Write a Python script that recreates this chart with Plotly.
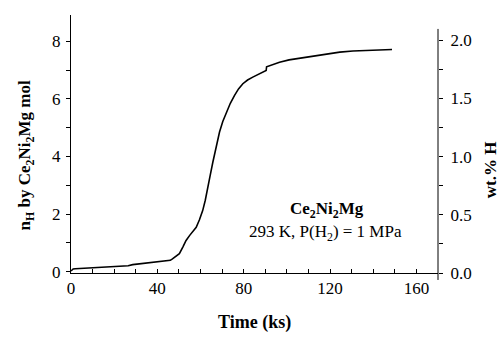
import plotly.graph_objects as go

# Time (ks) and hydrogen content n_H (per Ce2Ni2Mg formula unit)
time_ks = [0, 1, 2, 5, 8.5, 12, 16, 20, 24, 26.5, 28.6, 30, 33, 36.3, 40, 44, 46, 47, 48.7,
           50.2, 51.8, 53.3, 54.9, 56.5, 58, 59.5, 61, 62.2, 63.4, 64.5, 65.7, 67.2, 68.8,
           70.3, 71.9, 73.8, 75.7, 77.6, 79.6, 81.8, 84.2, 87.3, 90.4, 90.6, 93.5, 96.6,
           101, 105.9, 112, 118.3, 124.5, 130.6, 135, 139.9, 144.5, 148.7]
n_H = [0.02, 0.09, 0.1, 0.11, 0.13, 0.14, 0.15, 0.16, 0.17, 0.2, 0.24, 0.25, 0.28, 0.31, 0.33,
       0.35, 0.39, 0.44, 0.52, 0.62, 0.85, 1.08, 1.25, 1.4, 1.54, 1.8, 2.12, 2.48, 2.88, 3.35,
       3.8, 4.35, 4.85, 5.22, 5.54, 5.85, 6.12, 6.35, 6.53, 6.66, 6.76, 6.88, 6.99, 7.12, 7.2,
       7.28, 7.36, 7.42, 7.5, 7.57, 7.63, 7.67, 7.68, 7.69, 7.71, 7.72]

x_ticks = [0, 40, 80, 120, 160]
y_ticks = [0, 2, 4, 6, 8]
wt_ticks = [0.0, 0.5, 1.0, 1.5, 2.0]
wt_tick_text = ["0.0", "0.5", "1.0", "1.5", "2.0"]

FONT = "'Liberation Serif', 'Times New Roman', Times, serif"

fig = go.Figure()
fig.add_trace(go.Scatter(x=time_ks, y=n_H, mode="lines",
                         line=dict(color="black", width=1.6), showlegend=False))
# invisible trace to activate the right axis
fig.add_trace(go.Scatter(x=[None], y=[None], yaxis="y2", showlegend=False))

fig.update_layout(
    width=502, height=340,
    margin=dict(l=71, r=64, t=15, b=67),
    paper_bgcolor="white", plot_bgcolor="white",
    font=dict(family=FONT, size=17, color="black"),
    xaxis=dict(range=[0, 170], tickvals=x_ticks, ticks="inside", ticklen=4,
               tickcolor="black", showline=True, linecolor="black", linewidth=1,
               showgrid=False, zeroline=False, tickfont=dict(family=FONT, size=17),
               minor=dict(dtick=10, ticks="inside", ticklen=4, tickcolor="black")),
    yaxis=dict(range=[-0.05, 8.92], tickvals=y_ticks, ticks="outside", ticklen=4,
               tickcolor="black", showline=True, linecolor="black", linewidth=1,
               showgrid=False, zeroline=False, ticklabelstandoff=2,
               tickfont=dict(family=FONT, size=17),
               minor=dict(dtick=1, ticks="outside", ticklen=4, tickcolor="black")),
    yaxis2=dict(overlaying="y", side="right", range=[0, 2.216], tickvals=wt_ticks,
                ticktext=wt_tick_text, ticks="outside", ticklen=4, tickcolor="black",
                showline=False, showgrid=False, zeroline=False, ticklabelstandoff=4,
                tickfont=dict(family=FONT, size=17),
                minor=dict(dtick=0.25, ticks="outside", ticklen=4, tickcolor="black")),
    shapes=[dict(type="line", xref="paper", yref="paper", x0=1, x1=1, y0=-0.027, y1=0.946,
                 line=dict(color="black", width=1))],
    annotations=[
        dict(text="<b>Time (ks)</b>", xref="paper", yref="paper", x=0.5, y=-0.19,
             showarrow=False, font=dict(family=FONT, size=18),
             xanchor="center", yanchor="middle"),
        dict(text="<b>n<sub>H</sub> by Ce<sub>2</sub>Ni<sub>2</sub>Mg mol</b>",
             xref="paper", yref="paper", x=-0.123, y=0.455, textangle=-90,
             showarrow=False, font=dict(family=FONT, size=17),
             xanchor="center", yanchor="middle"),
        dict(text="<b>wt.% H</b>", xref="paper", yref="paper", x=1.143, y=0.40,
             textangle=-90, showarrow=False, font=dict(family=FONT, size=17),
             xanchor="center", yanchor="middle"),
        dict(text="<b>Ce<sub>2</sub>Ni<sub>2</sub>Mg</b>", xref="paper", yref="paper",
             x=0.698, y=0.244, showarrow=False, font=dict(family=FONT, size=17),
             xanchor="center", yanchor="middle"),
        dict(text="293 K, P(H<sub>2</sub>) = 1 MPa", xref="paper", yref="paper",
             x=0.693, y=0.156, showarrow=False, font=dict(family=FONT, size=17),
             xanchor="center", yanchor="middle"),
    ],
)

fig.write_html("out.html")
